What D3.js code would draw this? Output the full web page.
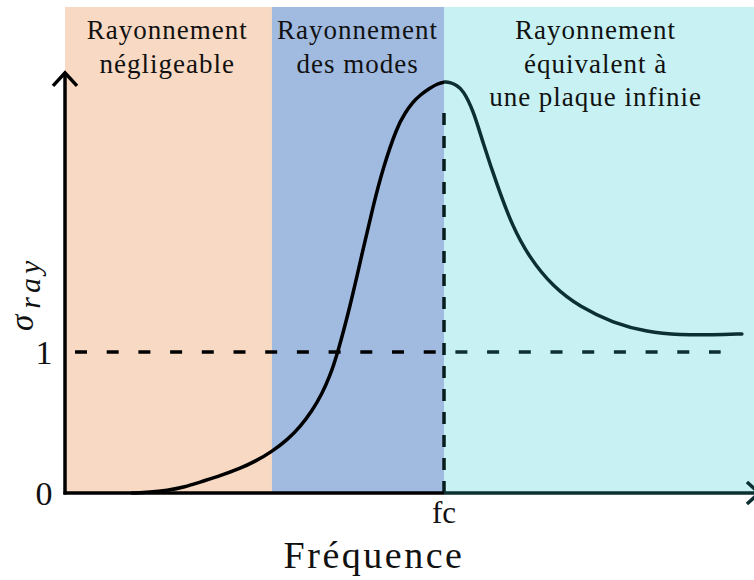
<!DOCTYPE html>
<html>
<head>
<meta charset="utf-8">
<script src="https://cdn.jsdelivr.net/npm/d3@7"></script>
<style>
  html, body { margin: 0; padding: 0; background: #ffffff; }
  svg { display: block; }
  text { font-family: "Liberation Serif", "DejaVu Serif", serif; fill: #111; }
</style>
</head>
<body>
<svg id="chart" width="754" height="580"></svg>
<script>
// Frequency expressed as f / fc, radiation efficiency sigma_ray
const freq = [0.177, 0.224, 0.269, 0.317, 0.356, 0.409, 0.462, 0.504, 0.546, 0.588,
              0.620, 0.652, 0.678, 0.699, 0.718, 0.752, 0.786, 0.813, 0.839, 0.876,
              0.897, 0.918, 0.937, 0.963, 0.982, 1.000, 1.018, 1.034, 1.050, 1.077,
              1.103, 1.140, 1.179, 1.224, 1.288, 1.359, 1.446, 1.536, 1.623, 1.710,
              1.786];
const sigma = [0.000, 0.005, 0.018, 0.043, 0.078, 0.121, 0.174, 0.227, 0.294, 0.380,
               0.468, 0.582, 0.702, 0.830, 0.979, 1.319, 1.723, 2.035, 2.305, 2.596,
               2.695, 2.773, 2.823, 2.872, 2.901, 2.918, 2.911, 2.890, 2.858, 2.716,
               2.482, 2.184, 1.901, 1.674, 1.461, 1.319, 1.206, 1.142, 1.121, 1.121,
               1.128];

// Frequency bands and their captions
const bandStart = [0.0, 0.546, 1.0];
const bandEnd   = [0.546, 1.0, 1.84];
const bandColor = ["#f8d9c3", "#a0bae0", "#c8f1f3"];
const bandLines = [
  ["Rayonnement", "négligeable"],
  ["Rayonnement", "des modes"],
  ["Rayonnement", "équivalent à", "une plaque infinie"]
];
const bandLabelX = [0.27, 0.772, 1.4];

// Axis ticks
const yTickValues = [0, 1];
const yTickLabels = ["0", "1"];
const xTickValues = [1];
const xTickLabels = ["fc"];

const fc = 1;
const unitLevel = 1;
const bandTop = 3.447;
const yArrowTip = 2.98;
const xArrowTip = 1.831;

const svg = d3.select("#chart");
const x = d3.scaleLinear().domain([0, 1]).range([65, 444]);
const y = d3.scaleLinear().domain([0, 1]).range([493, 352]);

const dark = "#000000";
const teal = "#0c2f31";

// Background bands
svg.append("g").selectAll("rect")
  .data(bandStart.map((s, i) => ({ s, e: bandEnd[i], c: bandColor[i] })))
  .join("rect")
  .attr("x", d => x(d.s))
  .attr("y", y(bandTop))
  .attr("width", d => x(d.e) - x(d.s))
  .attr("height", y(0) - y(bandTop))
  .attr("fill", d => d.c);

// Band captions
const captions = svg.append("g");
bandLines.forEach((lines, i) => {
  const t = captions.append("text")
    .attr("text-anchor", "middle")
    .attr("font-size", 27)
    .attr("letter-spacing", "1px");
  lines.forEach((ln, j) => {
    t.append("tspan")
      .attr("x", x(bandLabelX[i]))
      .attr("y", 39 + j * 33.5)
      .text(ln);
  });
});

// Clip regions: below fc drawn black, above fc drawn in dark teal
const defs = svg.append("defs");
defs.append("clipPath").attr("id", "leftClip").append("rect")
  .attr("x", 0).attr("y", 0).attr("width", x(fc)).attr("height", 580);
defs.append("clipPath").attr("id", "rightClip").append("rect")
  .attr("x", x(fc)).attr("y", 0).attr("width", 754 - x(fc)).attr("height", 580);

function twoTone(drawFn) {
  drawFn(svg.append("g").attr("clip-path", "url(#leftClip)"), dark);
  drawFn(svg.append("g").attr("clip-path", "url(#rightClip)"), teal);
}

// Dashed reference level sigma = 1
twoTone((g, col) => {
  g.append("line")
    .attr("x1", x(0)).attr("x2", x(1.73))
    .attr("y1", y(unitLevel)).attr("y2", y(unitLevel))
    .attr("stroke", col).attr("stroke-width", 3.5)
    .attr("stroke-dasharray", "12,19.7")
    .attr("stroke-dashoffset", -10);
});

// Dashed marker at fc
svg.append("line")
  .attr("x1", x(fc)).attr("x2", x(fc))
  .attr("y1", 113).attr("y2", y(0))
  .attr("stroke", "#071c1d").attr("stroke-width", 3.5)
  .attr("stroke-dasharray", "12,11");

// Radiation efficiency curve
const line = d3.line()
  .x(d => x(d[0]))
  .y(d => y(d[1]))
  .curve(d3.curveBasis);
const pts = freq.map((f, i) => [f, sigma[i]]);
twoTone((g, col) => {
  g.append("path")
    .attr("d", line(pts))
    .attr("fill", "none")
    .attr("stroke", col)
    .attr("stroke-width", 3.5)
    .attr("stroke-linecap", "round");
});

// Axes with arrow heads
twoTone((g, col) => {
  g.append("line")
    .attr("x1", x(0) - 1.5).attr("x2", x(xArrowTip))
    .attr("y1", y(0)).attr("y2", y(0))
    .attr("stroke", col).attr("stroke-width", 3.5);
  g.append("path")
    .attr("d", `M${x(xArrowTip) - 12},${y(0) - 11} L${x(xArrowTip)},${y(0)} L${x(xArrowTip) - 12},${y(0) + 11}`)
    .attr("fill", "none").attr("stroke", col).attr("stroke-width", 3.5)
    .attr("stroke-linejoin", "miter");
});
svg.append("line")
  .attr("x1", x(0)).attr("x2", x(0))
  .attr("y1", y(0) + 1.5).attr("y2", y(yArrowTip))
  .attr("stroke", dark).attr("stroke-width", 3.5);
svg.append("path")
  .attr("d", `M${x(0) - 12},${y(yArrowTip) + 13} L${x(0)},${y(yArrowTip)} L${x(0) + 12},${y(yArrowTip) + 13}`)
  .attr("fill", "none").attr("stroke", dark).attr("stroke-width", 3.5);

// Tick labels
svg.append("g").selectAll("text")
  .data(yTickValues)
  .join("text")
  .attr("x", 44)
  .attr("y", d => y(d) + 12)
  .attr("text-anchor", "middle")
  .attr("font-size", 34)
  .text((d, i) => yTickLabels[i]);

svg.append("g").selectAll("text")
  .data(xTickValues)
  .join("text")
  .attr("x", d => x(d))
  .attr("y", 523)
  .attr("text-anchor", "middle")
  .attr("font-size", 31)
  .text((d, i) => xTickLabels[i]);

// Axis titles
svg.append("text")
  .attr("x", 374)
  .attr("y", 568)
  .attr("text-anchor", "middle")
  .attr("font-size", 38)
  .attr("letter-spacing", "2.5px")
  .text("Fréquence");

const yTitle = svg.append("text")
  .attr("transform", "translate(33,331) rotate(-90)")
  .attr("font-style", "italic");
yTitle.append("tspan").attr("font-size", 33).text("σ");
yTitle.append("tspan").attr("font-size", 30).attr("dx", 6).attr("dy", 7)
  .attr("letter-spacing", "4px").text("ray");
</script>
</body>
</html>
